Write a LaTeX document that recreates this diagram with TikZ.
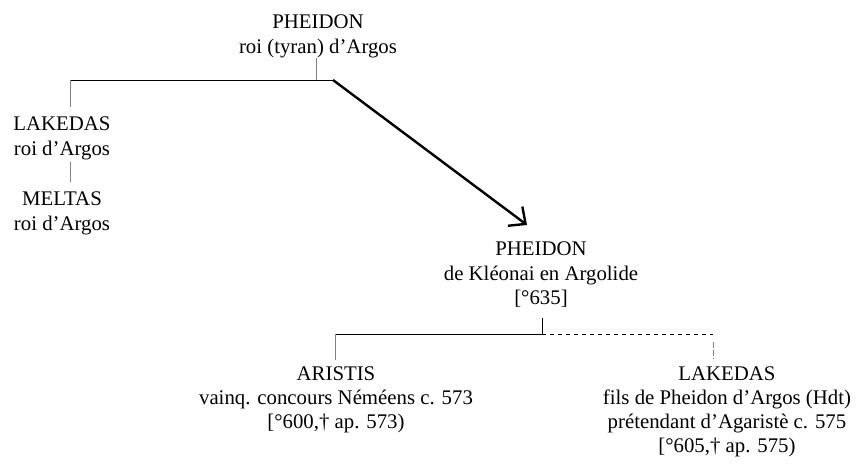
\documentclass[tikz,border=0pt]{standalone}
\usepackage{fontspec}
\setmainfont{Liberation Serif}
\usetikzlibrary{arrows.meta}
\begin{document}
\begin{tikzpicture}[x=1pt,y=-1pt,
  txt/.style={align=center,inner sep=0pt,anchor=north,font=\fontsize{20.8}{24.5}\selectfont},
  txtb/.style={txt,font=\fontsize{20.8}{23.8}\selectfont},
  link/.style={line width=0.9pt,draw=black},
  vlink/.style={line width=0.9pt,draw=gray},
  dlink/.style={line width=0.9pt,draw=black,dash pattern=on 4pt off 4pt},
  bigarrow/.style={line width=2.4pt,-{Straight Barb[length=13pt,width=24pt]}}]
\useasboundingbox[fill=white] (0,0) rectangle (856,464);

% nodes
\node[txt] (p1) at (318,15) {PHEIDON\\roi (tyran) d’Argos};
\node[txt] (lak) at (62,117) {LAKEDAS\\roi d’Argos};
\node[txt] (mel) at (62,192) {MELTAS\\roi d’Argos};
\node[txt] (p2) at (541,242) {PHEIDON\\de Kléonai en Argolide\\{[}°635{]}};
\node[txtb] (ari) at (336,367) {ARISTIS\\vainq. concours Néméens c. 573\\{[}°600,† ap. 573)};
\node[txtb] (lak2) at (727,367) {LAKEDAS\\fils de Pheidon d’Argos (Hdt)\\prétendant d’Agaristè c. 575\\{[}°605,† ap. 575)};

% junctions
\coordinate (j1) at (316,80);
\coordinate (jl) at (70,80);
\coordinate (je) at (333,80);
\coordinate (tip) at (527,225);
\coordinate (j2t) at (542,318);
\coordinate (j2) at (542,334);
\coordinate (jA) at (335,334);
\coordinate (jB) at (713,334);
\coordinate (jBa) at (713,342);
\coordinate (jBb) at (713,359);

% top family
\draw[vlink] (p1.south -| j1) -- (j1);
\draw[link] (jl) -- (je);
\draw[vlink] (jl) -- ([yshift=10pt]lak.north -| jl);
\draw[vlink] ([yshift=-2pt]lak.south -| jl) -- ([yshift=10pt]mel.north -| jl);
\draw[bigarrow] (je) -- (tip);

% lower family
\draw[link] (j2t) -- (j2);
\draw[link] (jA) -- (j2);
\draw[dlink] (j2) -- (jB);
\draw[vlink] (jA) -- ([yshift=7pt]ari.north -| jA);
\draw[line width=0.9pt,draw=gray,dash pattern=on 6pt off 2pt] (jBa) -- (jBb);
\end{tikzpicture}
\end{document}
